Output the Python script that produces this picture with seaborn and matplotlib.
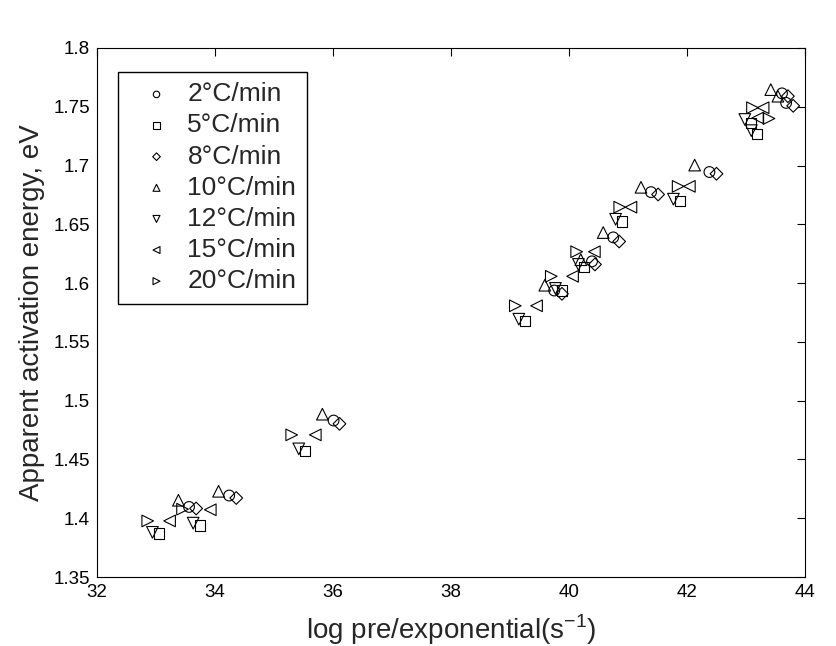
import matplotlib
matplotlib.use("Agg")
import matplotlib.pyplot as plt
import seaborn as sns
import pandas as pd
import numpy as np

rates = ["2°C/min", "5°C/min", "8°C/min", "10°C/min", "12°C/min", "15°C/min", "20°C/min"]
markers = ["o", "s", "D", "^", "v", "<", ">"]

x_2 = [33.56, 34.24, 36.01, 39.75, 40.39, 40.75, 41.39, 42.38, 43.61, 43.68]
y_2 = [1.4096, 1.4193, 1.4831, 1.5937, 1.6185, 1.6389, 1.6774, 1.6945, 1.7614, 1.7533]
x_5 = [33.05, 33.74, 35.52, 39.26, 39.88, 40.26, 40.90, 41.88, 43.09, 43.19]
y_5 = [1.3870, 1.3937, 1.4570, 1.5676, 1.5937, 1.6140, 1.6524, 1.6701, 1.7360, 1.7270]
x_8 = [33.68, 34.36, 36.11, 39.88, 40.44, 40.85, 41.51, 42.50, 43.71, 43.80]
y_8 = [1.4083, 1.4172, 1.4803, 1.5909, 1.6159, 1.6354, 1.6754, 1.6930, 1.7590, 1.7508]
x_10 = [33.38, 34.06, 35.82, 39.59, 40.20, 40.58, 41.22, 42.13, 43.42, 43.54]
y_10 = [1.4153, 1.4229, 1.4885, 1.5982, 1.6199, 1.6430, 1.6815, 1.7004, 1.7646, 1.7590]
x_12 = [32.94, 33.63, 35.42, 39.15, 39.77, 40.16, 40.79, 41.77, 42.98, 43.09]
y_12 = [1.3880, 1.3958, 1.4590, 1.5693, 1.5955, 1.6159, 1.6543, 1.6714, 1.7392, 1.7297]
x_15 = [33.23, 33.92, 35.70, 39.45, 40.06, 40.43, 41.05, 42.04, 43.20, 43.29]
y_15 = [1.3977, 1.4072, 1.4709, 1.5807, 1.6058, 1.6267, 1.6646, 1.6823, 1.7405, 1.7492]
x_20 = [32.86, 33.45, 35.30, 39.09, 39.70, 40.13, 40.86, 41.85, 43.11, 43.39]
y_20 = [1.3977, 1.4077, 1.4709, 1.5807, 1.6058, 1.6267, 1.6646, 1.6823, 1.7492, 1.7400]

xs = [x_2, x_5, x_8, x_10, x_12, x_15, x_20]
ys = [y_2, y_5, y_8, y_10, y_12, y_15, y_20]

x_ticks = [32, 34, 36, 38, 40, 42, 44]
y_ticks = [1.35, 1.4, 1.45, 1.5, 1.55, 1.6, 1.65, 1.7, 1.75, 1.8]

sns.set_style("white")
plt.rcParams['font.family'] = ['Liberation Sans', 'DejaVu Sans']
plt.rcParams['mathtext.fontset'] = 'custom'
plt.rcParams['mathtext.rm'] = 'Liberation Sans'

fig = plt.figure(figsize=(8.37, 6.46), dpi=100)
# axes: left 97px, right 805px, top 48px, bottom 577px
ax = fig.add_axes([97/837, 1-577/646, (805-97)/837, (577-48)/646])

sizes = {"o": 60, "s": 55, "D": 42, "^": 70, "v": 70, "<": 70, ">": 70}
for lab, m, xv, yv in zip(rates, markers, xs, ys):
    df = pd.DataFrame({"x": xv, "y": yv})
    sns.scatterplot(data=df, x="x", y="y", ax=ax, marker=m, s=sizes[m],
                    facecolor="none", edgecolor="black", linewidth=0.8,
                    label=lab, zorder=3)

ax.set_xlim(32, 44)
ax.set_ylim(1.35, 1.8)
ax.set_xticks(x_ticks)
ax.set_yticks(y_ticks)
ax.set_xticklabels([str(t) for t in x_ticks])
ax.set_yticklabels([("%g" % t) for t in y_ticks])
ax.tick_params(axis="both", direction="in", length=6, width=0.8, labelsize=13.5,
               top=True, right=True, colors="black", pad=5)
for sp in ax.spines.values():
    sp.set_visible(True)
    sp.set_color("black")
    sp.set_linewidth(0.8)

ax.set_xlabel("log pre/exponential(s$^{-1}$)", fontsize=20, labelpad=8)
ax.set_ylabel("Apparent activation energy, eV", fontsize=20, labelpad=6)

leg = ax.legend(loc="upper left", bbox_to_anchor=(0.03, 0.955), fontsize=19,
                frameon=True, fancybox=False, framealpha=1, edgecolor="black",
                markerscale=0.6, labelspacing=0.27, handletextpad=0.12,
                borderpad=0.4, handlelength=2.1, borderaxespad=0)
leg.get_frame().set_linewidth(1.0)

fig.savefig("out.png", dpi=100)
